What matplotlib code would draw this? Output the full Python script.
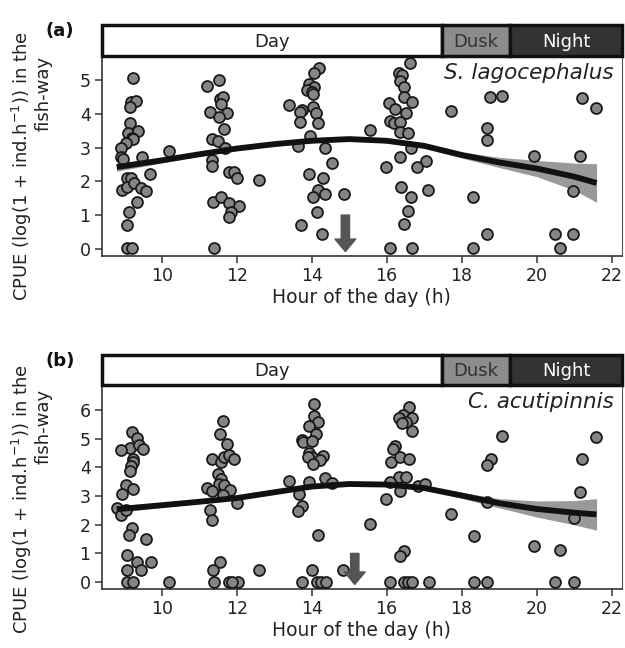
import matplotlib
matplotlib.use("Agg")
import matplotlib.pyplot as plt
from matplotlib.patches import Rectangle

plt.rcParams['font.family'] = ['DejaVu Sans']

# --- data ---
# panel (a) S. lagocephalus
a_hour = [9.23, 11.54, 11.2, 9.17, 9.31, 9.15, 11.55, 11.63, 11.58, 11.29, 11.75, 11.54, 9.15, 9.11, 9.38,
          9.2, 9.24, 11.66, 9.05, 8.91, 11.33, 11.51, 10.19, 11.69, 8.91, 8.96, 9.48, 11.33, 11.33, 9.69,
          9.08, 9.17, 8.95, 9.07, 9.27, 9.44, 9.58, 9.33, 9.13, 9.08, 9.08, 9.2, 11.8, 11.93, 12.0, 12.6,
          11.38, 11.57, 11.8, 12.05, 11.84, 11.79, 11.4,
          14.2, 14.06, 13.94, 14.06, 13.87, 14.0, 14.04, 13.39, 13.73, 13.69, 14.03, 14.11, 13.69, 14.18,
          13.95, 13.64, 14.35, 14.55, 13.94, 14.31, 14.18, 14.03, 14.35, 14.86, 14.13, 13.71, 14.27,
          15.55, 16.62, 16.34, 16.4, 16.35, 16.46, 16.47, 16.67, 16.07, 16.22, 16.51, 16.09, 16.19, 16.35,
          16.35, 16.58, 16.64, 16.35, 15.98, 17.04, 16.8, 16.39, 16.65, 17.11, 16.56, 16.47, 16.09, 16.69,
          18.77, 19.07, 17.73, 18.69, 18.69, 21.2, 21.58, 19.94, 21.15, 18.31, 20.98, 18.69, 18.31, 20.49,
          20.98, 20.62]
a_cpue = [5.07, 5.0, 4.83, 4.36, 4.39, 4.21, 4.43, 4.51, 4.29, 4.06, 4.03, 3.90, 3.72, 3.44, 3.49,
          3.28, 3.25, 3.55, 3.13, 2.98, 3.25, 3.2, 2.90, 3.0, 2.73, 2.65, 2.71, 2.63, 2.46, 2.22,
          2.09, 2.09, 1.75, 1.84, 1.94, 1.81, 1.72, 1.40, 1.10, 0.71, 0.02, 0.02, 2.27, 2.27, 2.09, 2.04,
          1.40, 1.55, 1.37, 1.27, 1.10, 0.93, 0.02,
          5.35, 5.22, 4.88, 4.78, 4.70, 4.65, 4.59, 4.26, 4.11, 4.06, 4.21, 4.03, 3.77, 3.72,
          3.34, 3.05, 2.98, 2.55, 2.22, 2.09, 1.75, 1.55, 1.63, 1.63, 1.10, 0.71, 0.44,
          3.52, 5.51, 5.20, 5.15, 4.98, 4.80, 4.51, 4.36, 4.33, 4.13, 4.03, 3.79, 3.72, 3.77,
          3.45, 3.44, 3.0, 2.71, 2.43, 2.61, 2.43, 1.82, 1.55, 1.75, 1.12, 0.73, 0.02, 0.02,
          4.49, 4.53, 4.08, 3.57, 3.22, 4.46, 4.18, 2.75, 2.75, 1.53, 1.72, 0.43, 0.02, 0.43,
          0.43, 0.02]

# panel (b) C. acutipinnis
b_hour = [9.2, 9.33, 9.15, 9.4, 9.51, 8.91, 9.24, 9.23, 9.17, 9.15, 9.06, 9.24, 8.94, 8.8, 8.91, 9.05,
          9.2, 9.13, 9.58, 9.08, 9.33, 9.46, 9.71, 9.08, 9.08, 9.23, 10.19,
          11.64, 11.55, 11.75, 11.33, 11.58, 11.66, 11.8, 11.93, 11.51, 11.58, 11.54, 11.67, 11.82, 11.2,
          11.33, 11.64, 12.0, 11.29, 11.33, 11.55, 11.38, 11.4, 11.8, 12.04, 11.87, 12.6,
          14.06, 14.06, 14.18, 13.94, 14.11, 13.73, 13.78, 14.0, 13.94, 14.0, 13.89, 14.31, 14.22, 14.04,
          13.39, 13.94, 14.35, 14.55, 13.67, 13.73, 13.64, 14.18, 15.57, 14.02, 14.84, 13.73, 14.13, 14.25,
          14.37,
          16.59, 16.44, 16.34, 16.67, 16.53, 16.42, 16.67, 16.22, 16.18, 16.12, 16.35, 16.59, 16.33, 16.53,
          16.09, 16.35, 16.84, 17.02, 15.98, 16.47, 16.37, 16.09, 16.46, 16.58, 16.69, 17.13,
          19.07, 18.78, 18.69, 21.58, 21.22, 21.17, 17.73, 18.69, 18.33, 19.94, 20.62, 21.0, 18.33, 18.69,
          20.49, 21.0]
b_cpue = [5.24, 5.01, 4.69, 4.78, 4.63, 4.60, 4.28, 4.20, 4.05, 3.87, 3.38, 3.23, 3.06, 2.57, 2.34, 2.51,
          1.89, 1.64, 1.52, 0.94, 0.71, 0.42, 0.71, 0.42, 0.0, 0.0, 0.0,
          5.63, 5.16, 4.80, 4.29, 4.20, 4.37, 4.43, 4.28, 3.76, 3.58, 3.41, 3.38, 3.21, 3.27,
          3.17, 3.03, 2.77, 2.51, 2.16, 0.71, 0.42, 0.0, 0.0, 0.0, 0.0, 0.42,
          6.21, 5.79, 5.59, 5.45, 5.15, 4.95, 4.89, 4.93, 4.49, 4.35, 4.35, 4.41, 4.26, 4.12,
          3.52, 3.48, 3.64, 3.44, 3.06, 2.65, 2.48, 1.64, 2.02, 0.42, 0.42, 0.0, 0.0, 0.0,
          0.0,
          6.12, 5.82, 5.71, 5.71, 5.59, 5.54, 5.27, 4.74, 4.63, 4.20, 4.37, 4.29, 3.67, 3.65,
          3.50, 3.17, 3.35, 3.41, 2.88, 1.09, 0.91, 0.0, 0.0, 0.0, 0.0, 0.0,
          5.09, 4.29, 4.08, 5.07, 4.29, 3.15, 2.39, 2.80, 1.62, 1.27, 1.12, 2.22, 0.0, 0.0,
          0.0, 0.0]

# fitted trend and its confidence half-width
fit_hour = [8.8, 10, 11, 12, 13, 14, 15, 16, 17, 18, 19, 20, 21, 21.6]
a_fit = [2.42, 2.62, 2.80, 2.97, 3.10, 3.20, 3.25, 3.20, 3.05, 2.78, 2.56, 2.38, 2.14, 1.95]
a_se = [0.12, 0.08, 0.06, 0.06, 0.06, 0.06, 0.06, 0.06, 0.07, 0.09, 0.15, 0.24, 0.40, 0.57]
b_fit = [2.54, 2.68, 2.80, 2.93, 3.13, 3.33, 3.42, 3.40, 3.28, 3.02, 2.75, 2.55, 2.42, 2.36]
b_se = [0.12, 0.08, 0.06, 0.06, 0.06, 0.06, 0.06, 0.06, 0.07, 0.10, 0.16, 0.28, 0.42, 0.55]

# day phases (hours)
phases = ['Day', 'Dusk', 'Night']
phase_start = [8.4, 17.47, 19.3]
phase_end = [17.47, 19.3, 22.27]
phase_fill = ['white', '#8c8c8c', '#333333']
phase_text = ['#222222', '#333333', 'white']

arrow_a = 14.9
arrow_b = 15.15

panels = [
    dict(tag='(a)', species='S. lagocephalus', hour=a_hour, cpue=a_cpue, fit=a_fit, se=a_se,
         arrow=arrow_a, ylim=(-0.21, 5.71), yticks=range(0, 6),
         ax_box=[0.1627, 0.605, 0.832, 0.3086], strip_box=[0.1627, 0.9136, 0.832, 0.0478]),
    dict(tag='(b)', species='C. acutipinnis', hour=b_hour, cpue=b_cpue, fit=b_fit, se=b_se,
         arrow=arrow_b, ylim=(-0.24, 6.87), yticks=range(0, 7),
         ax_box=[0.1627, 0.091, 0.832, 0.3149], strip_box=[0.1627, 0.4059, 0.832, 0.0463]),
]

fig = plt.figure(figsize=(6.25, 6.48), dpi=100)
xlim = (8.4, 22.27)
txt_col = '#222222'

for p in panels:
    ax = fig.add_axes(p['ax_box'])
    ax.fill_between(fit_hour, [f - s for f, s in zip(p['fit'], p['se'])],
                    [f + s for f, s in zip(p['fit'], p['se'])], color='#999999', lw=0, zorder=2)
    ax.scatter(p['hour'], p['cpue'], s=62, facecolor='#858585', edgecolor='#1a1a1a', lw=1.3, zorder=3)
    ax.plot(fit_hour, p['fit'], color='#111111', lw=4.2, solid_capstyle='butt', zorder=4)
    ax.annotate('', xy=(p['arrow'], -0.08), xytext=(p['arrow'], 1.0),
                arrowprops=dict(arrowstyle='simple,head_width=1.5,head_length=0.9,tail_width=0.6',
                                color='#555555', mutation_scale=10, shrinkA=0, shrinkB=0), zorder=5)
    ax.set_xlim(*xlim)
    ax.set_ylim(*p['ylim'])
    ax.set_xticks(range(10, 23, 2))
    ax.set_yticks(list(p['yticks']))
    ax.spines['top'].set_visible(False)
    for s in ['left', 'bottom']:
        ax.spines[s].set_linewidth(1.2)
        ax.spines[s].set_color('#333333')
    ax.spines['right'].set_linewidth(0.8)
    ax.spines['right'].set_color('#555555')
    ax.tick_params(direction='out', length=5, width=1.1, color='#333333', labelsize=12.5,
                   labelcolor=txt_col, pad=3)
    ax.set_xlabel('Hour of the day (h)', fontsize=13.5, color=txt_col, labelpad=2)
    ax.text(0.985, 0.965, p['species'], transform=ax.transAxes, ha='right', va='top',
            fontsize=15.5, style='italic', color=txt_col)

    sx = fig.add_axes(p['strip_box'])
    sx.set_xlim(*xlim)
    sx.set_ylim(0, 1)
    sx.axis('off')
    for name, x0, x1, fc, tc in zip(phases, phase_start, phase_end, phase_fill, phase_text):
        sx.add_patch(Rectangle((x0, 0), x1 - x0, 1, facecolor=fc, edgecolor='#111111', lw=2.5,
                               clip_on=False))
        sx.text((x0 + x1) / 2, 0.46, name, ha='center', va='center', fontsize=13, color=tc)

    # panel tag and y label
    top_px = 648 * (1 - p['strip_box'][1] - p['strip_box'][3])
    fig.text(60 / 625, 1 - (top_px + 6) / 648, p['tag'], ha='center', va='center',
             fontsize=13, fontweight='bold', color='#111111')
    bottom_px = 648 * (1 - p['ax_box'][1])
    fig.text(22 / 625, 1 - (bottom_px + 45) / 648, 'CPUE (log(1 + ind.h$^{-1}$)) in the',
             rotation=90, ha='center', va='bottom', fontsize=13, color=txt_col)
    fig.text(44 / 625, 1 - (bottom_px - 125) / 648, 'fish-way',
             rotation=90, ha='center', va='bottom', fontsize=13, color=txt_col)

fig.savefig('out.png', dpi=100, facecolor='white')
